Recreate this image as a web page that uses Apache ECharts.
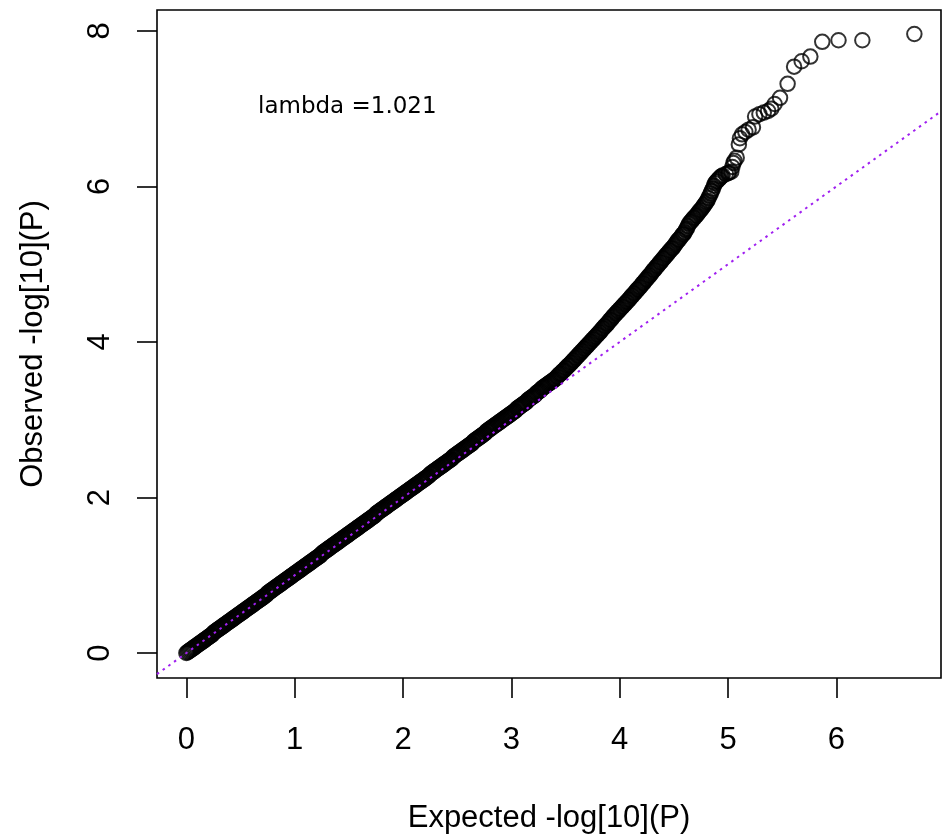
<!DOCTYPE html>
<html><head><meta charset="utf-8">
<script src="https://cdn.jsdelivr.net/npm/echarts@6/dist/echarts.min.js"></script>
<style>html,body{margin:0;padding:0;background:#fff}#c{width:943px;height:839px}</style>
</head><body><div id="c"></div><script>
const xTicks = [0, 1, 2, 3, 4, 5, 6];
const yTicks = [0, 2, 4, 6, 8];
const xTitle = 'Expected -log[10](P)';
const yTitle = 'Observed -log[10](P)';
const lambdaText = 'lambda =1.021';

// dense part of the QQ band (expected, observed)
const expDense = [
0.00,0.01,0.02,0.03,0.04,0.05,0.06,0.07,0.08,0.09,
0.10,0.11,0.12,0.13,0.14,0.15,0.16,0.17,0.18,0.19,
0.20,0.21,0.22,0.23,0.24,0.25,0.26,0.27,0.28,0.29,
0.30,0.31,0.32,0.33,0.34,0.35,0.36,0.37,0.38,0.39,
0.40,0.41,0.42,0.43,0.44,0.45,0.46,0.47,0.48,0.49,
0.50,0.51,0.52,0.53,0.54,0.55,0.56,0.57,0.58,0.59,
0.60,0.61,0.62,0.63,0.64,0.65,0.66,0.67,0.68,0.69,
0.70,0.71,0.72,0.73,0.74,0.75,0.76,0.77,0.78,0.79,
0.80,0.81,0.82,0.83,0.84,0.85,0.86,0.87,0.88,0.89,
0.90,0.91,0.92,0.93,0.94,0.95,0.96,0.97,0.98,0.99,
1.00,1.01,1.02,1.03,1.04,1.05,1.06,1.07,1.08,1.09,
1.10,1.11,1.12,1.13,1.14,1.15,1.16,1.17,1.18,1.19,
1.20,1.21,1.22,1.23,1.24,1.25,1.26,1.27,1.28,1.29,
1.30,1.31,1.32,1.33,1.34,1.35,1.36,1.37,1.38,1.39,
1.40,1.41,1.42,1.43,1.44,1.45,1.46,1.47,1.48,1.49,
1.50,1.51,1.52,1.53,1.54,1.55,1.56,1.57,1.58,1.59,
1.60,1.61,1.62,1.63,1.64,1.65,1.66,1.67,1.68,1.69,
1.70,1.71,1.72,1.73,1.74,1.75,1.76,1.77,1.78,1.79,
1.80,1.81,1.82,1.83,1.84,1.85,1.86,1.87,1.88,1.89,
1.90,1.91,1.92,1.93,1.94,1.95,1.96,1.97,1.98,1.99,
2.00,2.01,2.02,2.03,2.04,2.05,2.06,2.07,2.08,2.09,
2.10,2.11,2.12,2.13,2.14,2.15,2.16,2.17,2.18,2.19,
2.20,2.21,2.22,2.23,2.24,2.25,2.26,2.27,2.28,2.29,
2.30,2.31,2.32,2.33,2.34,2.35,2.36,2.37,2.38,2.39,
2.40,2.41,2.42,2.43,2.44,2.45,2.46,2.47,2.48,2.49,
2.50,2.51,2.52,2.53,2.54,2.55,2.56,2.57,2.58,2.59,
2.60,2.61,2.62,2.63,2.64,2.65,2.66,2.67,2.68,2.69,
2.70,2.71,2.72,2.73,2.74,2.75,2.76,2.77,2.78,2.79,
2.80,2.81,2.82,2.83,2.84,2.85,2.86,2.87,2.88,2.89,
2.90,2.91,2.92,2.93,2.94,2.95,2.96,2.97,2.98,2.99,
3.00,3.01,3.02,3.03,3.04,3.05,3.06,3.07,3.08,3.09,
3.10,3.11,3.12,3.13,3.14,3.15,3.16,3.17,3.18,3.19,
3.20,3.21,3.22,3.23,3.24,3.25,3.26,3.27,3.28,3.29,
3.30,3.31,3.32,3.33,3.34,3.35,3.36,3.37,3.38,3.39,
3.40,3.41,3.42,3.43,3.44,3.45,3.46,3.47,3.48,3.49,
3.50,3.51,3.52,3.53,3.54,3.55,3.56,3.57,3.58,3.59,
3.60,3.61,3.62,3.63,3.64,3.65,3.66,3.67,3.68,3.69,
3.70,3.71,3.72,3.73,3.74,3.75,3.76,3.77,3.78,3.79,
3.80,3.81,3.82,3.83,3.84,3.85,3.86,3.87,3.88,3.89,
3.90,3.91,3.92,3.93,3.94,3.95,3.96,3.97,3.98,3.99,
4.00,4.01,4.02,4.03,4.04,4.05,4.06,4.07,4.08,4.09,
4.10,4.11,4.12,4.13,4.14,4.15,4.16,4.17,4.18,4.19,
4.20,4.21,4.22,4.23,4.24,4.25,4.26,4.27,4.28,4.29,
4.30,4.31,4.32,4.33,4.34,4.35,4.36,4.37,4.38,4.39,
4.40,4.41,4.42,4.43,4.44,4.45,4.46,4.47,4.48,4.49,
4.50,4.51,4.52,4.53,4.54,4.55,4.56,4.57,4.58,4.59,
4.60,4.61,4.62,4.63,4.64,4.65,4.66,4.67,4.68,4.69,
4.70,4.71,4.72,4.73,4.74,4.75,4.76,4.77,4.78,4.79,
4.80,4.81,4.82,4.83,4.84,4.85,4.86,4.87,4.88,4.89,
4.90,4.91,4.92,4.93,4.94,4.95
];
const obsDense = [
0.00,0.01,0.02,0.03,0.04,0.05,0.06,0.07,0.08,0.09,
0.10,0.11,0.12,0.13,0.14,0.15,0.16,0.17,0.18,0.19,
0.20,0.21,0.22,0.23,0.24,0.26,0.27,0.28,0.29,0.30,
0.31,0.32,0.33,0.34,0.35,0.36,0.37,0.38,0.39,0.40,
0.41,0.42,0.43,0.44,0.45,0.46,0.47,0.48,0.49,0.50,
0.51,0.52,0.53,0.54,0.55,0.56,0.57,0.58,0.59,0.60,
0.61,0.62,0.63,0.64,0.65,0.66,0.67,0.68,0.69,0.70,
0.71,0.72,0.73,0.74,0.75,0.77,0.78,0.79,0.80,0.81,
0.82,0.83,0.84,0.85,0.86,0.87,0.88,0.89,0.90,0.91,
0.92,0.93,0.94,0.95,0.96,0.97,0.98,0.99,1.00,1.01,
1.02,1.03,1.04,1.05,1.06,1.07,1.08,1.09,1.10,1.11,
1.12,1.13,1.14,1.15,1.16,1.17,1.18,1.19,1.20,1.21,
1.22,1.23,1.24,1.25,1.26,1.28,1.29,1.30,1.31,1.32,
1.33,1.34,1.35,1.36,1.37,1.38,1.39,1.40,1.41,1.42,
1.43,1.44,1.45,1.46,1.47,1.48,1.49,1.50,1.51,1.52,
1.53,1.54,1.55,1.56,1.57,1.58,1.59,1.60,1.61,1.62,
1.63,1.64,1.65,1.66,1.67,1.68,1.69,1.70,1.71,1.72,
1.73,1.74,1.75,1.76,1.77,1.79,1.80,1.81,1.82,1.83,
1.84,1.85,1.86,1.87,1.88,1.89,1.90,1.91,1.92,1.93,
1.94,1.95,1.96,1.97,1.98,1.99,2.00,2.01,2.02,2.03,
2.04,2.05,2.06,2.07,2.08,2.09,2.10,2.11,2.12,2.13,
2.14,2.15,2.16,2.17,2.18,2.19,2.20,2.21,2.22,2.23,
2.24,2.25,2.26,2.27,2.28,2.30,2.31,2.32,2.33,2.34,
2.35,2.36,2.37,2.38,2.39,2.40,2.41,2.42,2.43,2.44,
2.45,2.46,2.47,2.48,2.49,2.50,2.52,2.53,2.54,2.55,
2.56,2.57,2.58,2.59,2.60,2.61,2.62,2.63,2.64,2.65,
2.66,2.67,2.68,2.69,2.70,2.72,2.73,2.74,2.75,2.76,
2.77,2.78,2.79,2.80,2.81,2.82,2.83,2.85,2.86,2.87,
2.88,2.89,2.90,2.91,2.92,2.93,2.94,2.95,2.96,2.97,
2.98,2.99,3.00,3.01,3.02,3.03,3.04,3.05,3.06,3.07,
3.08,3.09,3.10,3.11,3.12,3.14,3.15,3.16,3.17,3.18,
3.19,3.20,3.21,3.22,3.23,3.25,3.26,3.27,3.28,3.29,
3.30,3.31,3.32,3.34,3.35,3.36,3.37,3.38,3.40,3.41,
3.42,3.43,3.44,3.45,3.46,3.47,3.48,3.49,3.50,3.51,
3.52,3.53,3.55,3.56,3.58,3.59,3.60,3.62,3.63,3.64,
3.66,3.67,3.69,3.70,3.71,3.73,3.74,3.76,3.77,3.79,
3.80,3.82,3.83,3.85,3.86,3.88,3.89,3.91,3.92,3.94,
3.95,3.97,3.98,4.00,4.01,4.03,4.04,4.06,4.07,4.09,
4.10,4.12,4.13,4.15,4.17,4.18,4.20,4.21,4.23,4.24,
4.26,4.28,4.29,4.31,4.33,4.34,4.36,4.37,4.39,4.40,
4.42,4.43,4.45,4.46,4.48,4.49,4.51,4.52,4.54,4.55,
4.57,4.59,4.60,4.62,4.63,4.65,4.67,4.68,4.70,4.71,
4.73,4.75,4.76,4.78,4.80,4.81,4.83,4.85,4.86,4.88,
4.90,4.92,4.93,4.95,4.97,4.98,5.00,5.02,5.03,5.05,
5.07,5.08,5.10,5.12,5.13,5.15,5.17,5.18,5.20,5.21,
5.23,5.25,5.27,5.29,5.31,5.32,5.34,5.36,5.38,5.39,
5.41,5.44,5.46,5.49,5.52,5.54,5.55,5.57,5.59,5.60,
5.62,5.63,5.65,5.67,5.69,5.70,5.72,5.74,5.76,5.78,
5.80,5.82,5.85,5.88,5.91,5.94,5.97,6.01,6.04,6.06,
6.07,6.09,6.10,6.12,6.13,6.14
];
// sparse upper tail, individual circles
const expTail = [4.98,5.00,5.01,5.03,5.04,5.05,5.06,5.08,5.10,5.11,5.13,5.16,5.19,5.23,5.25,5.29,5.33,5.37,5.40,5.43,5.48,5.55,5.61,5.68,5.76,5.87,6.02,6.24,6.72];
const obsTail = [6.16,6.17,6.18,6.19,6.25,6.30,6.33,6.37,6.54,6.62,6.67,6.70,6.73,6.76,6.90,6.93,6.95,6.97,7.00,7.06,7.14,7.32,7.54,7.61,7.67,7.86,7.88,7.88,7.96];

const X_MIN = -0.271, X_MAX = 6.966, Y_MIN = -0.321, Y_MAX = 8.269;

const pts = [];
for (let i = 0; i < expDense.length; i++) pts.push([expDense[i], obsDense[i]]);
for (let i = 0; i < expTail.length; i++) pts.push([expTail[i], obsTail[i]]);

const FONT = 'Liberation Sans, Arial, sans-serif';
const chart = echarts.init(document.getElementById('c'), null, {renderer: 'canvas'});
chart.setOption({
  animation: false,
  backgroundColor: '#fff',
  grid: {left: 157, top: 10, right: 2, bottom: 159, show: true, borderColor: '#000', borderWidth: 1.6, backgroundColor: 'transparent'},
  xAxis: {
    type: 'value', min: X_MIN, max: X_MAX,
    splitLine: {show: false}, axisLine: {show: false, onZero: false},
    axisTick: {show: true, customValues: xTicks, length: 20, inside: false, lineStyle: {color: '#000', width: 1.6}},
    axisLabel: {show: true, customValues: xTicks, fontSize: 31, fontFamily: FONT, color: '#000', margin: 47, formatter: v => String(v)},
    name: xTitle, nameLocation: 'middle', nameGap: 125,
    nameTextStyle: {fontSize: 31, fontFamily: FONT, color: '#000'}
  },
  yAxis: {
    type: 'value', min: Y_MIN, max: Y_MAX,
    splitLine: {show: false}, axisLine: {show: false, onZero: false},
    axisTick: {show: true, customValues: yTicks, length: 20, inside: false, lineStyle: {color: '#000', width: 1.6}},
    axisLabel: {show: true, customValues: yTicks, fontSize: 31, fontFamily: FONT, color: '#000', margin: 41, rotate: 90, formatter: v => String(v)},
    name: yTitle, nameLocation: 'middle', nameGap: 108, nameRotate: 90,
    nameTextStyle: {fontSize: 31, fontFamily: FONT, color: '#000'}
  },
  graphic: [{
    type: 'text', left: 258, top: 96, z: 100,
    style: {text: lambdaText, fontSize: 23, fontFamily: 'DejaVu Sans, sans-serif', fill: '#000'}
  }],
  series: [
    {
      type: 'scatter', data: pts, symbol: 'circle', symbolSize: 14.5,
      itemStyle: {color: 'rgba(0,0,0,0)', borderColor: '#000', borderWidth: 2},
      emphasis: {disabled: true}, z: 2, silent: true
    },
    {
      type: 'line', data: [[X_MIN, X_MIN], [X_MAX, X_MAX]], symbol: 'none',
      lineStyle: {color: '#A020F0', width: 2, type: [2.5, 4.5]}, z: 3, silent: true
    }
  ]
});
</script></body></html>
